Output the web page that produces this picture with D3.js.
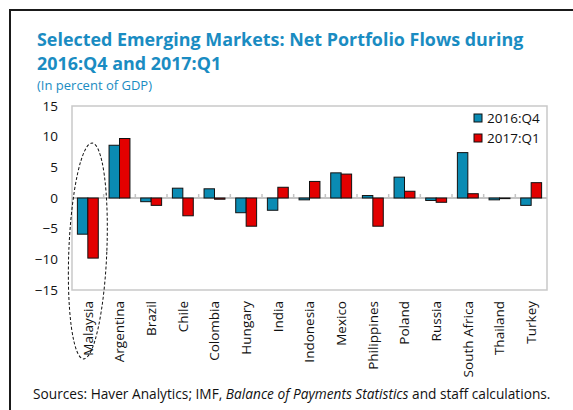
<!DOCTYPE html>
<html>
<head>
<meta charset="utf-8">
<script src="https://cdn.jsdelivr.net/npm/d3@7"></script>
<style>
  body { margin: 0; background: #fff; }
  text { font-family: "Open Sans", "Noto Sans", sans-serif; }
</style>
</head>
<body>
<script>
// Net portfolio flows, percent of GDP
const countries = ["Malaysia", "Argentina", "Brazil", "Chile", "Colombia", "Hungary", "India",
    "Indonesia", "Mexico", "Philippines", "Poland", "Russia", "South Africa", "Thailand", "Turkey"];
const seriesNames = ["2016:Q4", "2017:Q1"];
const q4_2016 = [-5.9, 8.6, -0.6, 1.6, 1.5, -2.4, -2.0, -0.3, 4.1, 0.4, 3.4, -0.4, 7.4, -0.3, -1.2];
const q1_2017 = [-9.8, 9.7, -1.2, -2.9, -0.2, -4.6, 1.75, 2.7, 3.9, -4.6, 1.1, -0.7, 0.7, -0.1, 2.5];
const yTicks = [-15, -10, -5, 0, 5, 10, 15];
const colors = ["#0A8BB3", "#E30000"];

const width = 573, height = 410;
const plot = { left: 72, right: 547, top: 106, bottom: 290 };

const svg = d3.select("body").append("svg")
    .attr("width", width)
    .attr("height", height);

// outer frame (runs off right and bottom edge)
svg.append("rect")
    .attr("x", 10).attr("y", 10)
    .attr("width", 700).attr("height", 600)
    .attr("fill", "none")
    .attr("stroke", "#1a1a1a")
    .attr("stroke-width", 2);

// titles
const title = svg.append("text")
    .attr("x", 37).attr("y", 46)
    .attr("fill", "#1A8CC2")
    .attr("font-size", "17.9px")
    .attr("font-weight", "bold");
title.append("tspan").text("Selected Emerging Markets: Net Portfolio Flows during");
title.append("tspan").attr("x", 37).attr("dy", 24).text("2016:Q4 and 2017:Q1");

svg.append("text")
    .attr("x", 37).attr("y", 90)
    .attr("fill", "#1A8CC2")
    .attr("font-size", "13px")
    .text("(In percent of GDP)");

const x = d3.scaleBand()
    .domain(countries)
    .range([plot.left, plot.right]);

const bw = x.bandwidth();
const x1 = d3.scaleBand()
    .domain(seriesNames)
    .range([bw * 0.17, bw * 0.83]);

const y = d3.scaleLinear()
    .domain([-15, 15])
    .range([plot.bottom, plot.top]);

// plot box
svg.append("rect")
    .attr("x", plot.left).attr("y", plot.top)
    .attr("width", plot.right - plot.left)
    .attr("height", plot.bottom - plot.top)
    .attr("fill", "none")
    .attr("stroke", "#C9C9C9")
    .attr("stroke-width", 1.5);

// y axis labels
const yAxis = svg.append("g")
    .attr("transform", `translate(${plot.left},0)`)
    .call(d3.axisLeft(y).tickValues(yTicks).tickSize(0).tickPadding(14));
yAxis.select(".domain").remove();
yAxis.selectAll("text")
    .attr("font-size", "13.5px")
    .attr("fill", "#111")
    .style("font-family", "'Open Sans', sans-serif");

// zero line with category ticks
const zero = svg.append("g");
zero.append("line")
    .attr("x1", plot.left).attr("x2", plot.right)
    .attr("y1", y(0)).attr("y2", y(0))
    .attr("stroke", "#C4C4C4")
    .attr("stroke-width", 2);
zero.selectAll("line.tick")
    .data(countries.slice(1))
    .enter().append("line")
    .attr("class", "tick")
    .attr("x1", d => x(d)).attr("x2", d => x(d))
    .attr("y1", y(0) - 4).attr("y2", y(0))
    .attr("stroke", "#C4C4C4")
    .attr("stroke-width", 1.5);

// bars
const data = countries.map((c, i) => ({ country: c, values: [q4_2016[i], q1_2017[i]] }));

const groups = svg.append("g")
    .selectAll("g")
    .data(data)
    .enter().append("g")
    .attr("transform", d => `translate(${x(d.country)},0)`);

groups.selectAll("rect")
    .data(d => d.values.map((v, j) => ({ key: seriesNames[j], value: v, j: j })))
    .enter().append("rect")
    .attr("x", d => x1(d.key))
    .attr("width", x1.bandwidth())
    .attr("y", d => y(Math.max(0, d.value)))
    .attr("height", d => Math.abs(y(d.value) - y(0)))
    .attr("fill", d => colors[d.j])
    .attr("stroke", "#111")
    .attr("stroke-width", 1);

// category labels
svg.append("g")
    .selectAll("text")
    .data(countries)
    .enter().append("text")
    .attr("transform", d => `translate(${x(d) + bw / 2},301) rotate(-90)`)
    .attr("text-anchor", "end")
    .attr("dy", "0.35em")
    .attr("font-size", "13.5px")
    .attr("fill", "#111")
    .text(d => d);

// dashed ellipse around Malaysia
svg.append("ellipse")
    .attr("cx", x("Malaysia") + bw / 2)
    .attr("cy", 251)
    .attr("rx", 19)
    .attr("ry", 108)
    .attr("transform", `rotate(2.3,${x("Malaysia") + bw / 2},251)`)
    .attr("fill", "none")
    .attr("stroke", "#111")
    .attr("stroke-width", 1)
    .attr("stroke-dasharray", "3,2");

// legend
const legend = svg.append("g")
    .selectAll("g")
    .data(seriesNames)
    .enter().append("g")
    .attr("transform", (d, i) => `translate(474,${114 + i * 20})`);
legend.append("rect")
    .attr("width", 8).attr("height", 8)
    .attr("fill", (d, i) => colors[i])
    .attr("stroke", "#111")
    .attr("stroke-width", 1);
legend.append("text")
    .attr("x", 13).attr("y", 4)
    .attr("dy", "0.35em")
    .attr("font-size", "13.5px")
    .attr("fill", "#111")
    .text(d => d);

// source note
const note = svg.append("text")
    .attr("x", 33).attr("y", 399)
    .attr("font-size", "13.7px")
    .attr("fill", "#111");
note.append("tspan").text("Sources: Haver Analytics; IMF, ");
note.append("tspan").attr("font-style", "italic").text("Balance of Payments Statistics");
note.append("tspan").text(" and staff calculations.");
</script>
</body>
</html>
